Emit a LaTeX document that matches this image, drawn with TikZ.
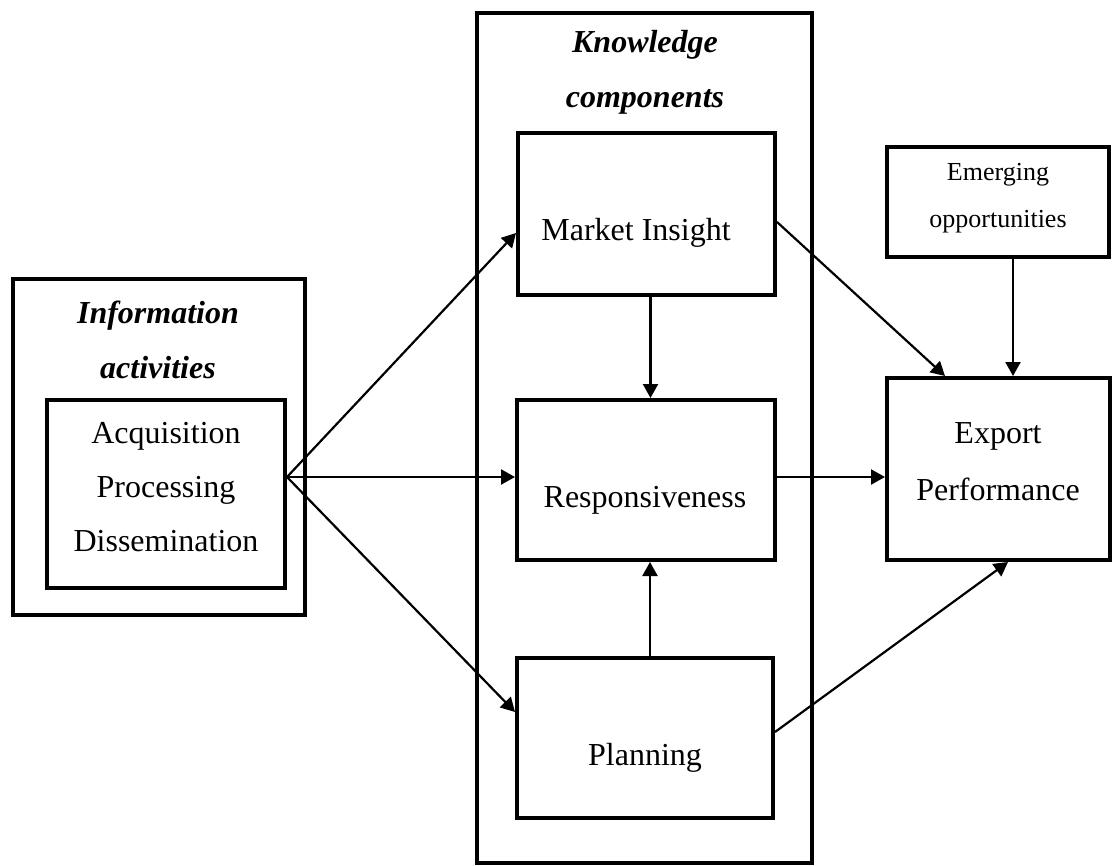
\documentclass[tikz,border=0pt]{standalone}
\usepackage{fontspec}
\setmainfont{Liberation Serif}
\usetikzlibrary{arrows.meta,calc}
\begin{document}
\begin{tikzpicture}[x=1pt,y=-1pt,
  frame/.style={draw=black,line width=4pt,inner sep=0pt},
  lbl/.style={align=center,inner sep=0pt,font=\fontsize{32}{54}\selectfont},
  ttl/.style={align=center,inner sep=0pt,font=\fontsize{32}{55}\selectfont\bfseries\itshape},
  arr/.style={line width=2.2pt,-{Triangle[length=14pt,width=15pt]}}]
\useasboundingbox (0,0) rectangle (1115,866);

% frames
\node[frame,minimum width=292pt,minimum height=336pt] (infoOuter) at (159,447) {};
\node[frame,minimum width=238pt,minimum height=188pt] (infoInner) at (166,494) {};
\node[frame,minimum width=335pt,minimum height=850pt] (knowOuter) at (644.5,438) {};
\node[frame,minimum width=257pt,minimum height=162pt] (insight) at (646.5,214) {};
\node[frame,minimum width=258pt,minimum height=160pt] (resp) at (646,480) {};
\node[frame,minimum width=256pt,minimum height=160pt] (plan) at (645,738) {};
\node[frame,minimum width=222pt,minimum height=110pt] (emerg) at (998,202) {};
\node[frame,minimum width=223pt,minimum height=182pt] (export) at (998.5,469) {};

% texts
\node[ttl] (infoTitle) at (158,340) {Information\\activities};
\node[lbl] (infoText) at (166,487) {Acquisition\\Processing\\Dissemination};
\node[ttl] (knowTitle) at (645,72.5) {Knowledge\\components};
\node[lbl] (insightText) at (636,233) {Market Insight};
\node[lbl] (respText) at (645,500) {Responsiveness};
\node[lbl] (planText) at (645,758) {Planning};
\node[lbl,font=\fontsize{26}{47}\selectfont] (emergText) at (998,198.5) {Emerging\\opportunities};
\node[lbl,font=\fontsize{32}{57}\selectfont] (exportText) at (998,461.5) {Export\\Performance};

% connectors
\coordinate (src) at ([yshift=17pt]infoInner.east);
\draw[arr] (src) -- ([yshift=-19pt]insight.west);
\draw[arr] (src) -- (src -| resp.west);
\draw[arr] (src) -- ([yshift=26pt]plan.west);
\draw[arr] ([xshift=4pt]insight.south) -- ([xshift=4pt]insight.south |- resp.north);
\draw[arr] ([xshift=5pt]plan.north) -- ([xshift=5pt]plan.north |- resp.south);
\draw[arr] ([yshift=-8pt]insight.east) -- ([xshift=-53.5pt]export.north);
\draw[arr] ([xshift=15pt]emerg.south) -- ([xshift=15pt]emerg.south |- export.north);
\draw[arr] ([yshift=3pt]resp.east) -- ([yshift=3pt]resp.east -| export.west);
\draw[arr] ([yshift=6pt]plan.east) -- ([xshift=9.5pt]export.south);
\end{tikzpicture}
\end{document}
